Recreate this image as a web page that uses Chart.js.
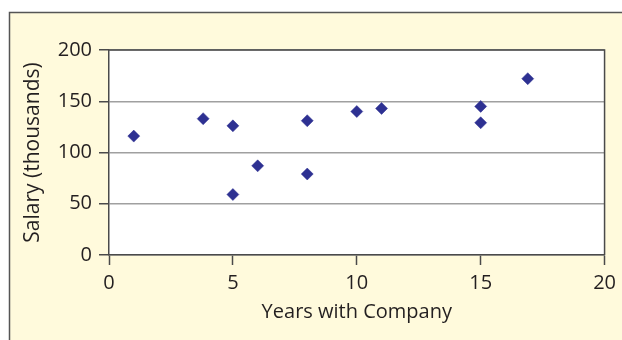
<!DOCTYPE html>
<html>
<head>
<meta charset="utf-8">
<script src="https://cdn.jsdelivr.net/npm/chart.js@4/dist/chart.umd.min.js"></script>
<style>
    html, body { margin: 0; padding: 0; background: #fff; }
    #wrap { width: 622px; height: 340px; position: relative; }
</style>
</head>
<body>
<div id="wrap"><canvas id="chart" width="622" height="340"></canvas></div>
<script>
// years with company vs salary (thousands)
const years = [1, 3.8, 5, 5, 6, 8, 8, 10, 11, 15, 15, 16.9];
const salary = [116, 133, 126, 59, 87, 131, 79, 140, 143, 145, 129, 172];
const xTicks = [0, 5, 10, 15, 20];
const yTicks = [0, 50, 100, 150, 200];

const textColor = '#231f20';
const axisColor = '#4a4a4a';
const fontFamily = '"Open Sans", "Noto Sans", sans-serif';

const frame = {
    id: 'frame',
    beforeDraw(chart) {
        const ctx = chart.ctx;
        const a = chart.chartArea;
        ctx.save();
        ctx.fillStyle = '#fff';
        ctx.fillRect(0, 0, chart.width, chart.height);
        ctx.fillStyle = '#fffadc';
        ctx.fillRect(10, 13, chart.width - 10, chart.height - 13);
        ctx.strokeStyle = '#555';
        ctx.lineWidth = 1.5;
        ctx.beginPath();
        ctx.moveTo(9.5, chart.height);
        ctx.lineTo(9.5, 12.5);
        ctx.lineTo(chart.width, 12.5);
        ctx.stroke();
        ctx.fillStyle = '#fff';
        ctx.fillRect(a.left, a.top, a.right - a.left, a.bottom - a.top);
        ctx.restore();
    },
    afterDatasetsDraw(chart) {
        const ctx = chart.ctx;
        const a = chart.chartArea;
        ctx.save();
        ctx.strokeStyle = axisColor;
        ctx.lineWidth = 1.5;
        ctx.beginPath();
        ctx.moveTo(a.left, a.top);
        ctx.lineTo(a.right, a.top);
        ctx.lineTo(a.right, a.bottom);
        ctx.stroke();
        ctx.restore();
    }
};

const ctx = document.getElementById('chart').getContext('2d');
new Chart(ctx, {
    type: 'scatter',
    data: {
        datasets: [{
            data: years.map((x, i) => ({ x: x, y: salary[i] })),
            pointStyle: 'rectRot',
            pointRadius: 6,
            backgroundColor: '#2e3192',
            borderColor: '#2e3192',
            borderWidth: 0.5
        }]
    },
    options: {
        responsive: false,
        animation: false,
        layout: { padding: { top: 50, right: 17, left: 0, bottom: 0 } },
        plugins: { legend: { display: false }, tooltip: { enabled: false } },
        scales: {
            x: {
                type: 'linear',
                min: 0,
                max: 20,
                afterBuildTicks: s => { s.ticks = xTicks.map(v => ({ value: v })); },
                afterFit: s => { s.height = 85; },
                grid: { drawOnChartArea: false, tickLength: 10, tickColor: axisColor, tickWidth: 1.5 },
                border: { color: axisColor, width: 1.5 },
                ticks: { color: textColor, padding: 6, font: { family: fontFamily, size: 20 } },
                title: {
                    display: true,
                    text: 'Years with Company',
                    color: textColor,
                    font: { family: fontFamily, size: 20 },
                    padding: { top: 0, bottom: 16 }
                }
            },
            y: {
                min: 0,
                max: 200,
                afterBuildTicks: s => { s.ticks = yTicks.map(v => ({ value: v })); },
                afterFit: s => { s.width = 109; },
                grid: { color: '#a0a0a0', lineWidth: 1.5, tickLength: 10, tickColor: axisColor, tickWidth: 1.5 },
                border: { color: axisColor, width: 1.5 },
                ticks: { color: textColor, padding: 7, font: { family: fontFamily, size: 20 } },
                title: {
                    display: true,
                    text: 'Salary (thousands)',
                    color: textColor,
                    font: { family: fontFamily, size: 21 },
                    padding: { top: 20, bottom: 0 }
                }
            }
        }
    },
    plugins: [frame]
});
</script>
</body>
</html>
